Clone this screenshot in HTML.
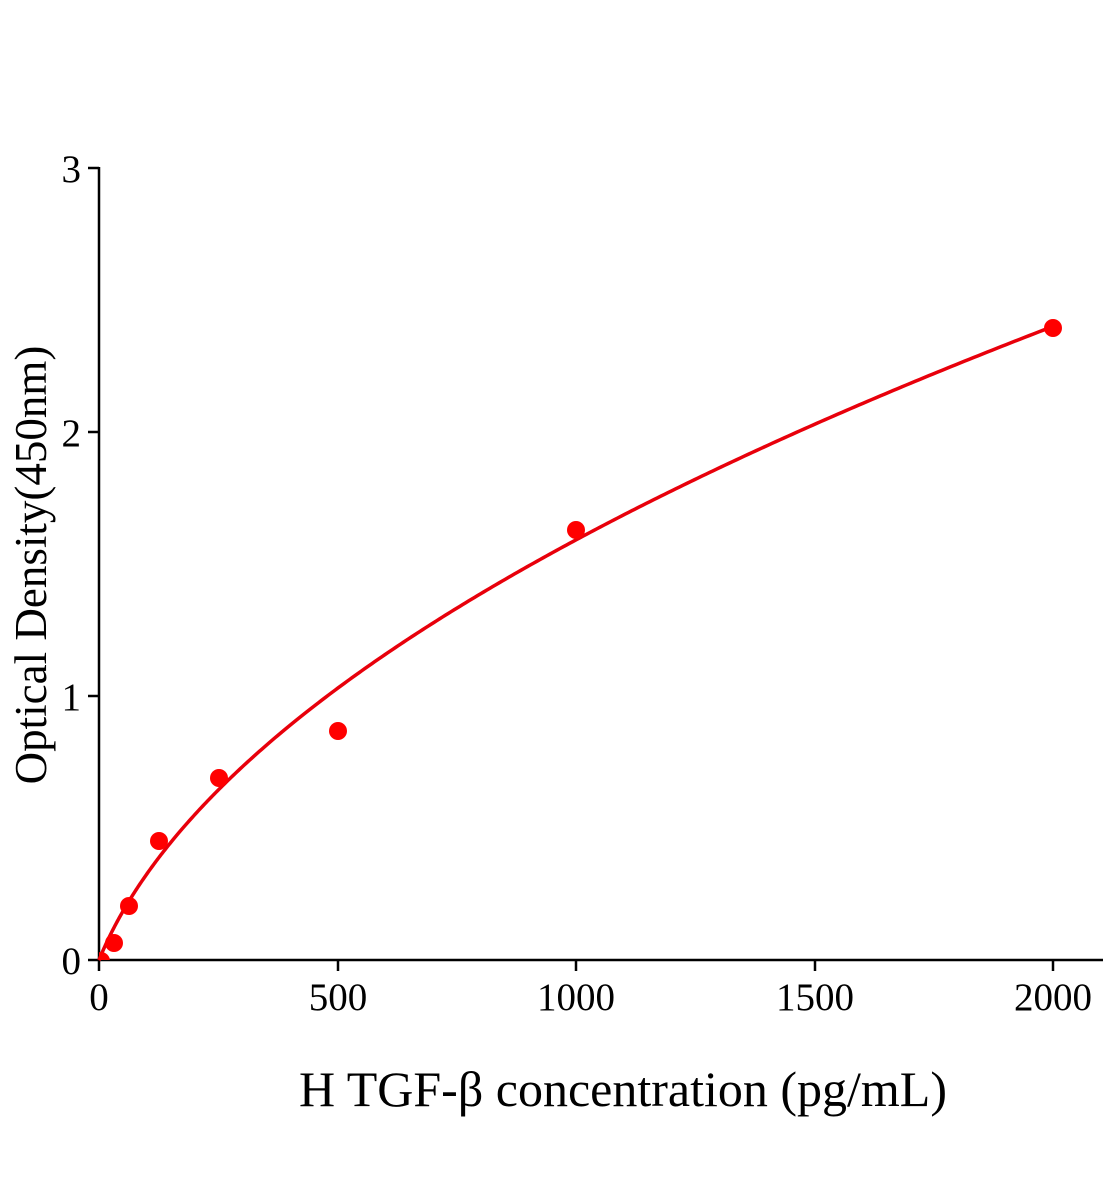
<!DOCTYPE html>
<html><head><meta charset="utf-8"><style>
html,body{margin:0;padding:0;background:#fff;}
svg{display:block;}
text{font-family:"Liberation Serif",serif;fill:#000;}
</style></head><body>
<svg id="s" width="1104" height="1200" viewBox="0 0 1104 1200" xmlns="http://www.w3.org/2000/svg">
<defs><clipPath id="cp"><rect x="99" y="0" width="1010" height="960"/></clipPath></defs>
<g stroke="#000" stroke-width="2.5" fill="none">
<line x1="99" y1="167" x2="99" y2="961"/>
<line x1="98" y1="960" x2="1103" y2="960"/>
<line x1="88" y1="168" x2="99" y2="168"/>
<line x1="88" y1="432" x2="99" y2="432"/>
<line x1="88" y1="696" x2="99" y2="696"/>
<line x1="88" y1="960" x2="99" y2="960"/>
<line x1="99" y1="960" x2="99" y2="971"/>
<line x1="338" y1="960" x2="338" y2="971"/>
<line x1="576" y1="960" x2="576" y2="971"/>
<line x1="815" y1="960" x2="815" y2="971"/>
<line x1="1053" y1="960" x2="1053" y2="971"/>
</g>
<g font-size="39" text-anchor="end">
<text x="81" y="182">3</text>
<text x="81" y="446">2</text>
<text x="81" y="710">1</text>
<text x="81" y="974">0</text>
</g>
<g font-size="39" text-anchor="middle">
<text x="99" y="1010">0</text>
<text x="338" y="1010">500</text>
<text x="576" y="1010">1000</text>
<text x="815" y="1010">1500</text>
<text x="1053" y="1010">2000</text>
</g>
<text x="623" y="1106" font-size="50" text-anchor="middle">H TGF-β concentration (pg/mL)</text>
<text transform="translate(46,565) rotate(-90)" font-size="45" text-anchor="middle">Optical Density(450nm)</text>
<path id="c" fill="none" stroke="#e8000b" stroke-width="3.5"/>
<g fill="#f00">
<circle cx="101" cy="961" r="9" clip-path="url(#cp)"/>
<circle cx="114" cy="943" r="9"/>
<circle cx="129" cy="906" r="9"/>
<circle cx="159" cy="841" r="9"/>
<circle cx="219" cy="778" r="9"/>
<circle cx="338" cy="731" r="9"/>
<circle cx="576" cy="530" r="9"/>
<circle cx="1053" cy="328" r="9"/>
</g>
</svg>
<script>
var a=2.4/(Math.sqrt(41)-1),d="";
for(var i=0;i<=400;i++){var x=2000*Math.pow(i/400,2);var y=a*(Math.sqrt(1+x/50)-1);
d+=(i?"L":"M")+(99+x*0.477).toFixed(2)+","+(960-y*264).toFixed(2);}
document.getElementById("c").setAttribute("d",d);
</script>
</body></html>
